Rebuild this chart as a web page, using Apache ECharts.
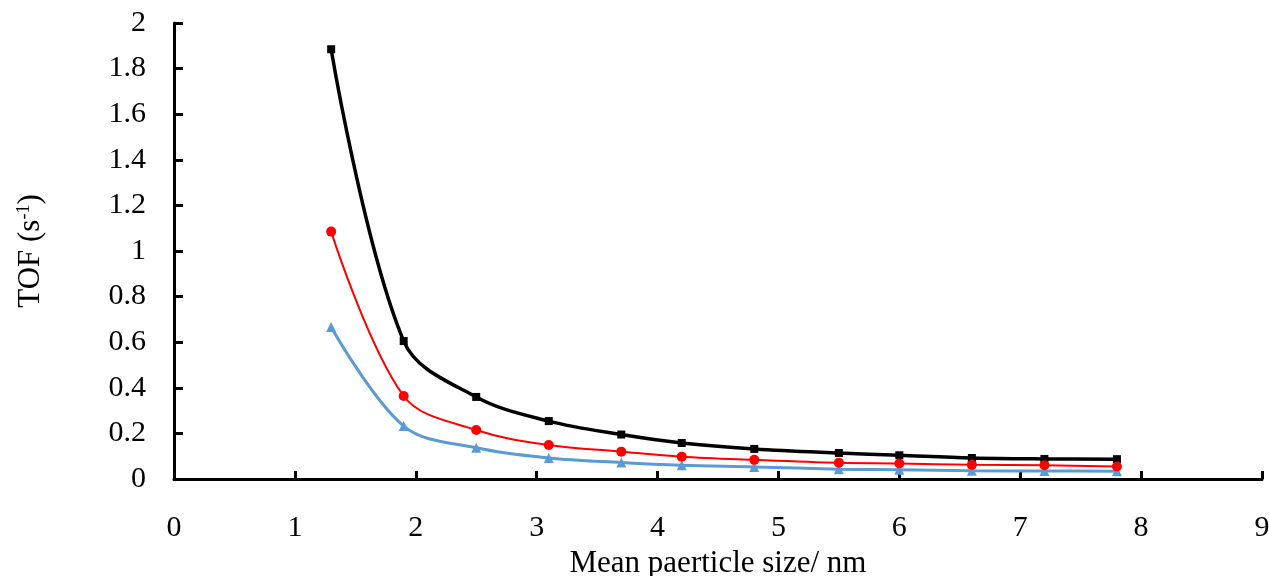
<!DOCTYPE html>
<html>
<head>
<meta charset="utf-8">
<script src="https://cdn.jsdelivr.net/npm/echarts@6/dist/echarts.min.js"></script>
<style>
html,body{margin:0;padding:0;background:#fff;}
#chart{width:1269px;height:576px;}
</style>
</head>
<body>
<div id="chart"></div>
<script>
const sizes = [1.3, 1.9, 2.5, 3.1, 3.7, 4.2, 4.8, 5.5, 6.0, 6.6, 7.2, 7.8];
const tofBlack = [1.885, 0.605, 0.36, 0.254, 0.195, 0.158, 0.132, 0.114, 0.104, 0.092, 0.088, 0.087];
const tofRed   = [1.085, 0.364, 0.215, 0.149, 0.12, 0.098, 0.084, 0.071, 0.068, 0.062, 0.06, 0.055];
const tofBlue  = [0.667, 0.232, 0.137, 0.092, 0.072, 0.06, 0.053, 0.043, 0.041, 0.036, 0.035, 0.034];
const xTicks = [0, 1, 2, 3, 4, 5, 6, 7, 8, 9];
const yTicks = [0, 0.2, 0.4, 0.6, 0.8, 1, 1.2, 1.4, 1.6, 1.8, 2];

const pairs = arr => sizes.map((x, i) => [x, arr[i]]);
const font = '"Liberation Serif", "Times New Roman", serif';

const chart = echarts.init(document.getElementById('chart'));
chart.setOption({
  animation: false,
  backgroundColor: '#fff',
  grid: { left: 174, right: 7, top: 23, bottom: 97, containLabel: false, outerBoundsMode: 'none' },
  xAxis: {
    type: 'value',
    min: xTicks[0], max: xTicks[xTicks.length - 1], interval: 1,
    name: 'Mean paerticle size/ nm',
    nameLocation: 'middle', nameGap: 68,
    nameTextStyle: { fontFamily: font, fontSize: 31, color: '#000' },
    axisLine: { show: true, lineStyle: { color: '#000', width: 3 } },
    axisTick: { show: true, inside: true, length: 8, lineStyle: { color: '#000', width: 3 } },
    axisLabel: { fontFamily: font, fontSize: 30, color: '#000', margin: 34 },
    splitLine: { show: false }
  },
  yAxis: {
    type: 'value',
    min: yTicks[0], max: yTicks[yTicks.length - 1], interval: 0.2,
    name: 'TOF (s{sup|-1})',
    nameLocation: 'middle', nameGap: 128, nameRotate: 90,
    nameTextStyle: { fontFamily: font, fontSize: 31, color: '#000',
      rich: { sup: { fontFamily: font, fontSize: 18, color: '#000', verticalAlign: 'top', padding: [0,0,12,0] } } },
    axisLine: { show: true, lineStyle: { color: '#000', width: 3 } },
    axisTick: { show: true, inside: true, length: 9, lineStyle: { color: '#000', width: 3 } },
    axisLabel: { fontFamily: font, fontSize: 30, color: '#000', margin: 28,
      formatter: v => String(Math.round(v * 10) / 10) },
    splitLine: { show: false }
  },
  series: [
    { name: 'black', type: 'line', data: pairs(tofBlack), smooth: 0.35,
      symbol: 'rect', symbolSize: 8,
      lineStyle: { color: '#000', width: 3.5 }, itemStyle: { color: '#000' }, z: 3 },
    { name: 'red', type: 'line', data: pairs(tofRed), smooth: 0.35,
      symbol: 'circle', symbolSize: 10,
      lineStyle: { color: '#ff0000', width: 2 }, itemStyle: { color: '#ff0000' }, z: 4 },
    { name: 'blue', type: 'line', data: pairs(tofBlue), smooth: 0.35,
      symbol: 'triangle', symbolSize: 10,
      lineStyle: { color: '#5b9bd5', width: 3 }, itemStyle: { color: '#5b9bd5' }, z: 2 }
  ]
});
</script>
</body>
</html>
